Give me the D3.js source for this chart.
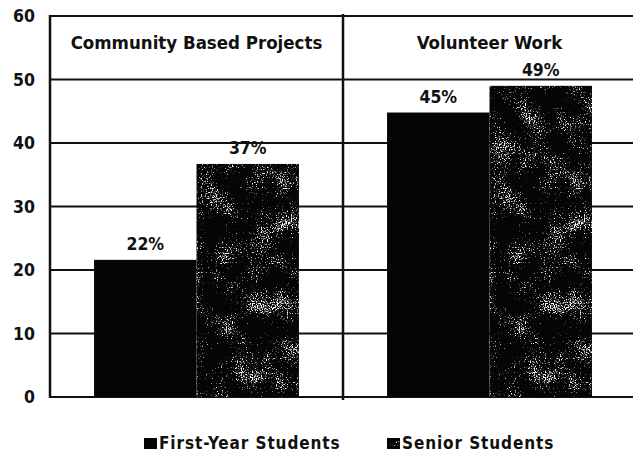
<!DOCTYPE html>
<html>
<head>
<meta charset="utf-8">
<script src="https://cdn.jsdelivr.net/npm/d3@7"></script>
<style>
  body { margin: 0; background: #fff; }
  svg { display: block; }
  text { font-family: "DejaVu Sans Condensed", "DejaVu Sans", sans-serif; fill: #111; }
</style>
</head>
<body>
<div class="chart"></div>
<script>
var categories = ["Community Based Projects", "Volunteer Work"];
var seriesNames = ["First-Year Students", "Senior Students"];
var firstYear = [21.6, 44.8];
var senior = [36.7, 49];
var yTicks = [0, 10, 20, 30, 40, 50, 60];

var svgWidth = 633;
var svgHeight = 453;

var margin = { top: 16, right: -3, bottom: 56, left: 50 };
var width = svgWidth - margin.left - margin.right;
var height = svgHeight - margin.top - margin.bottom;

var svg = d3.select(".chart")
    .append("svg")
    .attr("width", svgWidth).attr("height", svgHeight);

// speckled texture for the senior bars: fine grain, masked by coarse blotches
var defs = svg.append("defs");
var filt = defs.append("filter").attr("id", "speckle")
    .attr("x", 0).attr("y", 0).attr("width", 1).attr("height", 1)
    .attr("color-interpolation-filters", "sRGB");
filt.append("feTurbulence")
    .attr("type", "fractalNoise").attr("baseFrequency", "0.8")
    .attr("numOctaves", 1).attr("seed", 3).attr("result", "fineRaw");
filt.append("feColorMatrix")
    .attr("in", "fineRaw").attr("type", "matrix")
    .attr("values", "0 0 0 0 1  0 0 0 0 1  0 0 0 0 1  1 0 0 0 0")
    .attr("result", "fine");
filt.append("feTurbulence")
    .attr("type", "fractalNoise").attr("baseFrequency", "0.04")
    .attr("numOctaves", 2).attr("seed", 5).attr("result", "coarseRaw");
filt.append("feColorMatrix")
    .attr("in", "coarseRaw").attr("type", "matrix")
    .attr("values", "0 0 0 0 1  0 0 0 0 1  0 0 0 0 1  1 0 0 0 0")
    .attr("result", "coarse");
filt.append("feComposite")
    .attr("in", "fine").attr("in2", "coarse").attr("operator", "arithmetic")
    .attr("k1", 0).attr("k2", 1).attr("k3", 0.6).attr("k4", -0.92)
    .attr("result", "sum");
var ct = filt.append("feComponentTransfer").attr("in", "sum").attr("result", "dots");
ct.append("feFuncR").attr("type", "linear").attr("slope", 0).attr("intercept", 1);
ct.append("feFuncG").attr("type", "linear").attr("slope", 0).attr("intercept", 1);
ct.append("feFuncB").attr("type", "linear").attr("slope", 0).attr("intercept", 1);
ct.append("feFuncA").attr("type", "linear").attr("slope", 6).attr("intercept", 0);
filt.append("feComposite")
    .attr("in", "dots").attr("in2", "SourceGraphic").attr("operator", "in")
    .attr("result", "dotsIn");
var merge = filt.append("feMerge");
merge.append("feMergeNode").attr("in", "SourceGraphic");
merge.append("feMergeNode").attr("in", "dotsIn");

var chartGroup = svg.append("g")
    .attr("transform", `translate(${margin.left}, ${margin.top})`);

var x0 = d3.scaleBand().domain(categories).range([0, width]).padding(0);
var x1 = d3.scaleBand().domain(seriesNames).range([0, x0.bandwidth()])
    .paddingInner(0).paddingOuter(0.43);
var y = d3.scaleLinear().domain([0, 60]).range([height, 0]);

// grid lines
chartGroup.selectAll(".grid")
    .data(yTicks)
    .enter()
    .append("line")
    .attr("x1", 0).attr("x2", width)
    .attr("y1", d => y(d)).attr("y2", d => y(d))
    .attr("stroke", "#111").attr("stroke-width", 2);

// y axis labels
var leftAxis = d3.axisLeft(y).tickValues(yTicks).tickSize(0).tickPadding(15);
var axisG = chartGroup.append("g").call(leftAxis);
axisG.select(".domain").remove();
axisG.selectAll("text")
    .attr("font-size", 17.5).attr("font-weight", "bold")
    .attr("font-family", "'DejaVu Sans Condensed', 'DejaVu Sans', sans-serif")
    .attr("fill", "#111");

var data = categories.map((c, i) => ({ cat: c, values: [
    { name: seriesNames[0], value: firstYear[i] },
    { name: seriesNames[1], value: senior[i] }
] }));

var groups = chartGroup.selectAll(".grp")
    .data(data)
    .enter()
    .append("g")
    .attr("transform", d => `translate(${x0(d.cat)}, 0)`);

groups.selectAll("rect")
    .data(d => d.values)
    .enter()
    .append("rect")
    .attr("x", d => x1(d.name))
    .attr("y", d => y(d.value))
    .attr("width", x1.bandwidth())
    .attr("height", d => y(0) - y(d.value))
    .attr("fill", "#050505")
    .attr("filter", (d, i) => i === 1 ? "url(#speckle)" : null);

groups.selectAll(".lbl")
    .data(d => d.values)
    .enter()
    .append("text")
    .attr("x", d => x1(d.name) + x1.bandwidth() / 2)
    .attr("y", d => y(d.value) - 10)
    .attr("text-anchor", "middle")
    .attr("font-size", 17.5).attr("font-weight", "bold")
    .text(d => d3.format(".0f")(d.value) + "%");

// category titles
groups.append("text")
    .attr("x", x0.bandwidth() / 2)
    .attr("y", 33)
    .attr("text-anchor", "middle")
    .attr("font-size", 18.5).attr("font-weight", "bold")
    .text(d => d.cat);

// left axis line and group divider
chartGroup.append("line")
    .attr("x1", 0).attr("x2", 0).attr("y1", y(60) - 1).attr("y2", y(0) + 1)
    .attr("stroke", "#111").attr("stroke-width", 2.5);
chartGroup.append("line")
    .attr("x1", x0(categories[1])).attr("x2", x0(categories[1]))
    .attr("y1", y(60) - 2).attr("y2", y(0) + 3)
    .attr("stroke", "#111").attr("stroke-width", 2.5);

// legend
var legend = svg.append("g").attr("transform", "translate(144, 449)");
var legX = [0, 243];
seriesNames.forEach(function(name, i) {
    legend.append("rect")
        .attr("x", legX[i]).attr("y", -11)
        .attr("width", 13).attr("height", 11)
        .attr("fill", "#050505")
        .attr("filter", i === 1 ? "url(#speckle)" : null);
    legend.append("text")
        .attr("x", legX[i] + 15).attr("y", 0)
        .attr("font-size", 17)
        .attr("font-weight", "bold")
        .attr("letter-spacing", 0.9)
        .attr("font-family", "'DejaVu Sans', sans-serif")
        .attr("fill", "#1a1a1a")
        .text(name);
});
</script>
</body>
</html>
